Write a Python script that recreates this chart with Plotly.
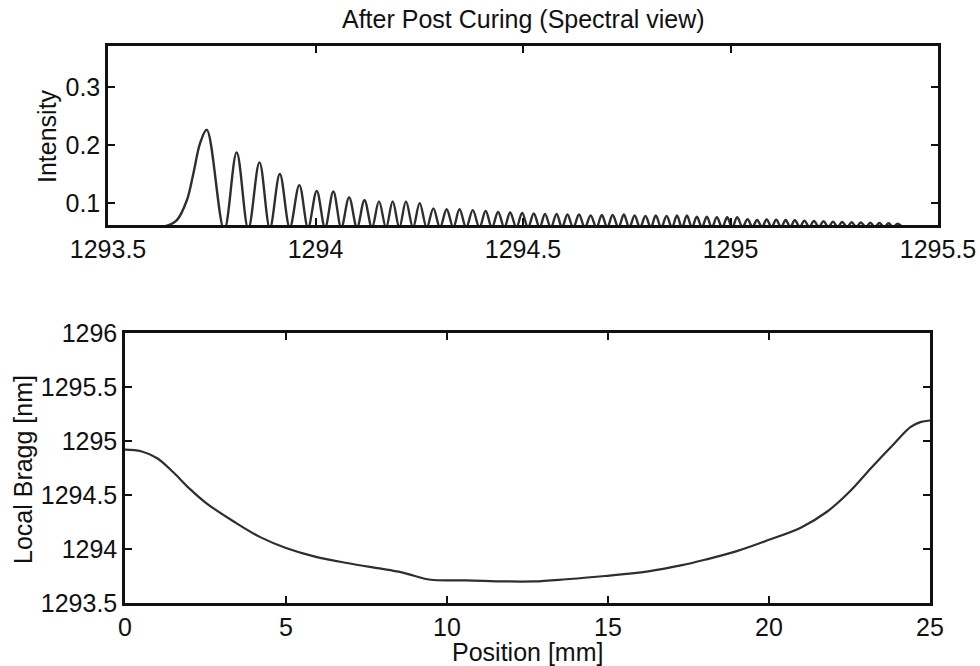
import plotly.graph_objects as go

# ---------------- Top panel: spectrum ----------------
foot_wl = [1293.50, 1293.640, 1293.666, 1293.690, 1293.706, 1293.722]
foot_int = [0.060, 0.061, 0.071, 0.105, 0.152, 0.203]

peak_wl = [1293.738, 1293.810, 1293.865, 1293.914, 1293.961, 1294.003, 1294.043, 1294.081,
           1294.118, 1294.153, 1294.186, 1294.218, 1294.251, 1294.284, 1294.316, 1294.347,
           1294.379, 1294.410, 1294.440, 1294.469, 1294.498, 1294.526, 1294.553, 1294.581,
           1294.607, 1294.635, 1294.663, 1294.690, 1294.716, 1294.743, 1294.769, 1294.795,
           1294.820, 1294.846, 1294.871, 1294.895, 1294.919, 1294.943, 1294.967, 1294.992,
           1295.016, 1295.041, 1295.064, 1295.087, 1295.110, 1295.133, 1295.155, 1295.178,
           1295.201, 1295.224, 1295.247, 1295.269, 1295.292, 1295.314, 1295.337, 1295.359,
           1295.381, 1295.403]
peak_int = [0.226, 0.187, 0.170, 0.150, 0.131, 0.121, 0.120, 0.110, 0.105, 0.103,
            0.103, 0.103, 0.100, 0.091, 0.0895, 0.0895, 0.088, 0.0866, 0.0848, 0.0840,
            0.0831, 0.0823, 0.0814, 0.0814, 0.0805, 0.0805, 0.0788, 0.0797, 0.0797, 0.0805,
            0.0788, 0.0780, 0.0788, 0.0780, 0.0788, 0.0788, 0.0768, 0.0768, 0.0757, 0.0757,
            0.0757, 0.0723, 0.0711, 0.0720, 0.0714, 0.0711, 0.0706, 0.0701, 0.0694, 0.0689,
            0.0683, 0.0677, 0.0671, 0.0668, 0.0663, 0.0659, 0.0654, 0.0649]
valley_wl = [1293.780, 1293.838, 1293.890, 1293.938, 1293.982, 1294.023, 1294.062, 1294.100,
             1294.136, 1294.170, 1294.202, 1294.235, 1294.268, 1294.300, 1294.332, 1294.363,
             1294.395, 1294.425, 1294.455, 1294.484, 1294.512, 1294.540, 1294.567, 1294.594,
             1294.621, 1294.649, 1294.677, 1294.703, 1294.730, 1294.756, 1294.782, 1294.808,
             1294.833, 1294.859, 1294.883, 1294.907, 1294.931, 1294.955, 1294.980, 1295.004,
             1295.029, 1295.053, 1295.076, 1295.099, 1295.122, 1295.144, 1295.167, 1295.190,
             1295.213, 1295.236, 1295.258, 1295.281, 1295.303, 1295.326, 1295.348, 1295.370,
             1295.392, 1295.414]
valley_int = [0.054, 0.056, 0.057, 0.058, 0.058, 0.058, 0.058, 0.058,
              0.058, 0.058, 0.058, 0.058, 0.058, 0.058, 0.058, 0.058,
              0.058, 0.058, 0.058, 0.058, 0.058, 0.058, 0.058, 0.058,
              0.058, 0.058, 0.058, 0.058, 0.058, 0.058, 0.058, 0.058,
              0.058, 0.058, 0.058, 0.058, 0.058, 0.058, 0.058, 0.058,
              0.059, 0.059, 0.059, 0.059, 0.059, 0.059, 0.059, 0.059,
              0.059, 0.059, 0.059, 0.059, 0.059, 0.059, 0.059, 0.059,
              0.059, 0.059]

top_xticks = [1293.5, 1294, 1294.5, 1295, 1295.5]
top_xticktext = ["1293.5", "1294", "1294.5", "1295", "1295.5"]
top_yticks = [0.1, 0.2, 0.3]
top_yticktext = ["0.1", "0.2", "0.3"]

# ---------------- Bottom panel: local Bragg wavelength ----------------
position_mm = [0, 0.5, 1.0, 1.5, 2.0, 2.5, 3.4, 4.2, 5.0, 5.9, 6.9, 7.9, 8.5, 9.0, 9.5,
               10.6, 11.8, 12.7, 13.7, 14.9, 16.3, 17.3, 18.0, 19.0, 20.0, 21.0, 21.8, 22.5,
               23.2, 23.9, 24.4, 24.7, 25.0]
local_bragg = [1294.92, 1294.905, 1294.84, 1294.71, 1294.56, 1294.43, 1294.25, 1294.11,
               1294.01, 1293.93, 1293.87, 1293.82, 1293.79, 1293.75, 1293.715, 1293.71,
               1293.70, 1293.70, 1293.72, 1293.75, 1293.795, 1293.85, 1293.90, 1293.98,
               1294.085, 1294.20, 1294.345, 1294.53, 1294.76, 1294.98, 1295.13, 1295.175,
               1295.19]

bot_xticks = [0, 5, 10, 15, 20, 25]
bot_xticktext = ["0", "5", "10", "15", "20", "25"]
bot_yticks = [1293.5, 1294, 1294.5, 1295, 1295.5, 1296]
bot_yticktext = ["1293.5", "1294", "1294.5", "1295", "1295.5", "1296"]

# assemble spectrum trace: foot, then peak/valley alternating
spec_x = list(foot_wl)
spec_y = list(foot_int)
for pw, pi, vw, vi in zip(peak_wl, peak_int, valley_wl, valley_int):
    spec_x += [pw, vw]
    spec_y += [pi, vi]

FONT = "Liberation Sans, Arial, sans-serif"
FS = 25
LINE_COL = "#2e2e2e"
TXT_COL = "#111111"

fig = go.Figure()
fig.add_trace(go.Scatter(x=spec_x, y=spec_y, mode="lines",
                         line=dict(color=LINE_COL, width=2.4, shape="spline", smoothing=1.0),
                         xaxis="x", yaxis="y", showlegend=False, hoverinfo="skip"))
fig.add_trace(go.Scatter(x=position_mm, y=local_bragg, mode="lines",
                         line=dict(color=LINE_COL, width=2.2, shape="spline", smoothing=1.0),
                         xaxis="x2", yaxis="y2", showlegend=False, hoverinfo="skip"))

axis_common = dict(showline=True, linecolor="#111111", linewidth=2.5, mirror="ticks",
                   ticks="inside", ticklen=7, tickwidth=2, tickcolor="#111111",
                   showgrid=False, zeroline=False,
                   tickfont=dict(family=FONT, size=FS, color=TXT_COL))

fig.update_layout(
    width=980, height=666,
    margin=dict(l=0, r=0, t=0, b=0),
    paper_bgcolor="white", plot_bgcolor="white",
    template="none",
    xaxis=dict(domain=[108/980, 938/980], range=[1293.5, 1295.5],
               tickmode="array", tickvals=top_xticks, ticktext=top_xticktext,
               anchor="y", ticklabelstandoff=0, **axis_common),
    yaxis=dict(domain=[1-225/666, 1-46/666], range=[0.0625, 0.37],
               tickmode="array", tickvals=top_yticks, ticktext=top_yticktext,
               anchor="x", **axis_common),
    xaxis2=dict(domain=[125/980, 930/980], range=[0, 25],
                tickmode="array", tickvals=bot_xticks, ticktext=bot_xticktext,
                anchor="y2", ticklabelstandoff=0, **axis_common),
    yaxis2=dict(domain=[1-603/666, 1-333/666], range=[1293.5, 1296],
                tickmode="array", tickvals=bot_yticks, ticktext=bot_yticktext,
                anchor="x2", **axis_common),
    annotations=[
        dict(text="After Post Curing (Spectral view)", x=523/980, y=1-19/666,
             xref="paper", yref="paper", xanchor="center", yanchor="middle",
             showarrow=False, font=dict(family=FONT, size=FS, color=TXT_COL)),
        dict(text="Intensity", x=47/980, y=1-136/666, textangle=-90,
             xref="paper", yref="paper", xanchor="center", yanchor="middle",
             showarrow=False, font=dict(family=FONT, size=FS, color=TXT_COL)),
        dict(text="Local Bragg [nm]", x=23/980, y=1-470/666, textangle=-90,
             xref="paper", yref="paper", xanchor="center", yanchor="middle",
             showarrow=False, font=dict(family=FONT, size=FS, color=TXT_COL)),
        dict(text="Position [mm]", x=527/980, y=1-652/666,
             xref="paper", yref="paper", xanchor="center", yanchor="middle",
             showarrow=False, font=dict(family=FONT, size=FS, color=TXT_COL)),
    ],
)

fig.write_html("out.html", config={"displayModeBar": False})
